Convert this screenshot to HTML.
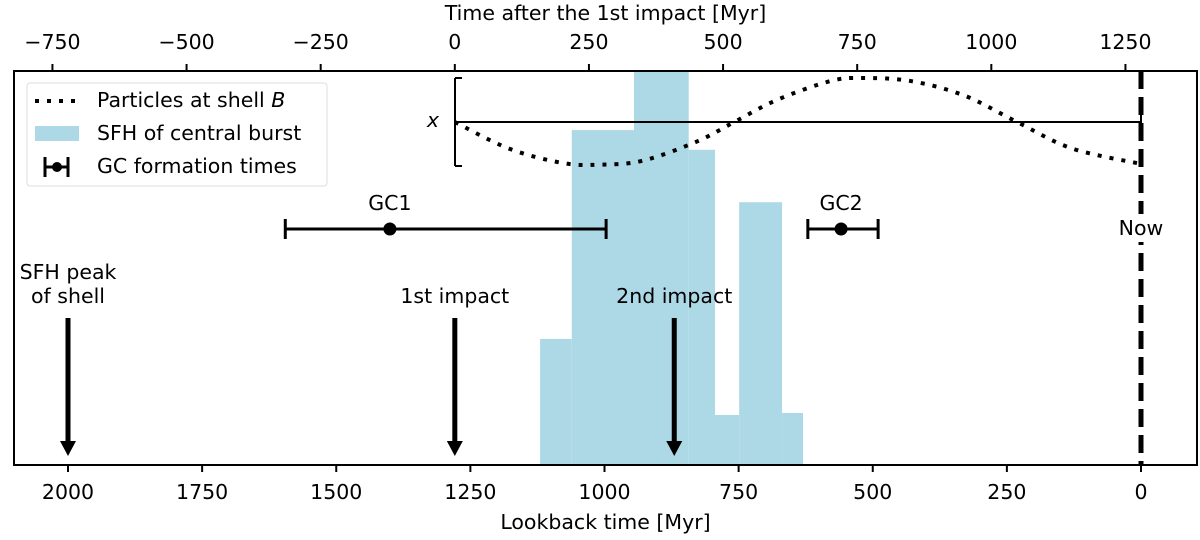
<!DOCTYPE html>
<html><head><meta charset="utf-8"><style>
body{margin:0;background:#fff}
svg{display:block;font-family:"DejaVu Sans","Liberation Sans",sans-serif}
</style></head><body>
<svg id="chart" width="1200" height="540" viewBox="0 0 1200 540"></svg>
<script>
// data
const sfhEdges=[1120,1061,945,843,794,749,669,630];
const sfhValues=[0.32,0.85,1.1,0.80,0.127,0.667,0.132];
const shellT=[0,100,200,270,350,450,521,600,700,760,850,950,1048,1150,1278];
const shellX=[0,-0.6,-0.93,-0.97,-0.88,-0.45,0,0.5,0.93,1.0,0.93,0.6,0,-0.6,-0.95];
const gcNames=["GC1","GC2"];
const gcCenter=[1400,559];
const gcLow=[997,490];
const gcHigh=[1595,621];
const arrowTimes=[2000,1279,870];
const bottomTicks=[2000,1750,1500,1250,1000,750,500,250,0];
const topTicks=[-750,-500,-250,0,250,500,750,1000,1250];
const impactLookback=1279;

const svg=document.getElementById('chart');
const NS='http://www.w3.org/2000/svg';
const L=14,R=1197,T=71,B=465;
const FS=20.5;
const sx=lb=>1141-lb*0.5365;
const tx=t=>sx(impactLookback-t);
const sy=v=>B-v*(B-T);
const ix=v=>122-v*44;
function mk(tag,attrs,parent){const e=document.createElementNS(NS,tag);for(const k in attrs)e.setAttribute(k,attrs[k]);(parent||svg).appendChild(e);return e;}
function txt(s,x,y,attrs,parent){const e=mk('text',Object.assign({x:x,y:y,'font-size':FS,'text-anchor':'middle','dominant-baseline':'central'},attrs||{}),parent);e.textContent=s;return e;}

const defs=mk('defs',{});
const cp=mk('clipPath',{id:'clip'},defs);mk('rect',{x:L,y:T,width:R-L,height:B-T},cp);
const plot=mk('g',{'clip-path':'url(#clip)'});


// bars
sfhValues.forEach((v,i)=>{
  const x1=sx(sfhEdges[i]),x2=sx(sfhEdges[i+1]);
  const r=mk('rect',{x:x1,y:sy(v),width:x2-x1,height:B-sy(v),fill:'#add8e6'},plot);
  
  
});

// inset
const inset=mk('g',{stroke:'#000','stroke-width':2,fill:'none'},plot);

mk('line',{x1:455,y1:78,x2:455,y2:166},inset);
[78,122,166].forEach(y=>mk('line',{x1:455,y1:y,x2:462,y2:y},inset));
mk('line',{x1:455,y1:122,x2:1141,y2:122},inset);
mk('line',{x1:1141,y1:113,x2:1141,y2:131},inset);
txt('x',433,120,{'font-style':'italic'},plot);
const pts=shellT.map((t,i)=>[tx(t),ix(shellX[i])]);
let d='M'+pts[0][0]+','+pts[0][1];
for(let i=0;i<pts.length-1;i++){const p0=pts[Math.max(0,i-1)],p1=pts[i],p2=pts[i+1],p3=pts[Math.min(pts.length-1,i+2)];
 d+=' C'+(p1[0]+(p2[0]-p0[0])/6)+','+(p1[1]+(p2[1]-p0[1])/6)+' '+(p2[0]-(p3[0]-p1[0])/6)+','+(p2[1]-(p3[1]-p1[1])/6)+' '+p2[0]+','+p2[1];}
const sc=mk('path',{d:d,stroke:'#000','stroke-width':4,fill:'none','stroke-dasharray':'4,8'},plot);


// now line
const nl=mk('line',{x1:sx(0),y1:T,x2:sx(0),y2:B,stroke:'#000','stroke-width':5,'stroke-dasharray':'18,8'},plot);

mk('rect',{x:1110,y:214,width:62,height:28,fill:'#fff'},plot);
txt('Now',1141,228,{},plot);

// GCs
gcNames.forEach((n,i)=>{
  const g=mk('g',{stroke:'#000','stroke-width':3},plot);
  
  
  const y=229,a=sx(gcHigh[i]),b=sx(gcLow[i]);
  mk('line',{x1:a,y1:y,x2:b,y2:y},g);
  mk('line',{x1:a,y1:y-10,x2:a,y2:y+10},g);
  mk('line',{x1:b,y1:y-10,x2:b,y2:y+10},g);
  mk('circle',{cx:sx(gcCenter[i]),cy:y,r:5,fill:'#000'},g);
  txt(n,sx(gcCenter[i]),203,{},plot);
});

// arrows
const arrowLabels=[["SFH peak","of shell"],["1st impact"],["2nd impact"]];
arrowTimes.forEach((t,i)=>{
  const x=sx(t);
  const g=mk('g',{},plot);
  
  
  mk('line',{x1:x,y1:318,x2:x,y2:445,stroke:'#000','stroke-width':5},g);
  mk('path',{d:`M${x-8},${441} L${x+8},${441} L${x},${456} Z`,fill:'#000'},g);
  const lab=arrowLabels[i];
  if(lab.length==2){txt(lab[0],x,272,{},plot);txt(lab[1],x,296,{},plot);}else txt(lab[0],x,296,{},plot);
});

// frame
const fr=mk('rect',{x:L,y:T,width:R-L,height:B-T,fill:'none',stroke:'#000','stroke-width':2});


bottomTicks.forEach(v=>{const x=sx(v);mk('line',{x1:x,y1:B,x2:x,y2:B+7,stroke:'#000','stroke-width':2});
 const e=txt(String(v),x,492);});
txt('Lookback time [Myr]',(L+R)/2,522);
topTicks.forEach(v=>{const x=tx(v);mk('line',{x1:x,y1:T,x2:x,y2:T-7,stroke:'#000','stroke-width':2});
 const e=txt(String(v).replace('-','\u2212'),x,42);});
txt('Time after the 1st impact [Myr]',(L+R)/2,13);

// legend
const lg=mk('g',{});
mk('rect',{x:27,y:83,width:300,height:103,fill:'#fff',stroke:'#ddd','stroke-width':1,rx:3},lg);
mk('line',{x1:35,y1:101,x2:78,y2:101,stroke:'#000','stroke-width':4,'stroke-dasharray':'4,8'},lg);
mk('rect',{x:35,y:126,width:44,height:15,fill:'#add8e6'},lg);
mk('line',{x1:45,y1:167,x2:68,y2:167,stroke:'#000','stroke-width':3},lg);
mk('line',{x1:45,y1:157,x2:45,y2:177,stroke:'#000','stroke-width':3},lg);
mk('line',{x1:68,y1:157,x2:68,y2:177,stroke:'#000','stroke-width':3},lg);
mk('circle',{cx:57,cy:167,r:5,fill:'#000'},lg);
const l1=txt('Particles at shell ',97,100,{'text-anchor':'start'},lg);
const ts=document.createElementNS(NS,'tspan');ts.setAttribute('font-style','italic');ts.textContent='B';l1.appendChild(ts);
txt('SFH of central burst',97,133,{'text-anchor':'start'},lg);
txt('GC formation times',97,166,{'text-anchor':'start'},lg);
</script>
</body></html>
